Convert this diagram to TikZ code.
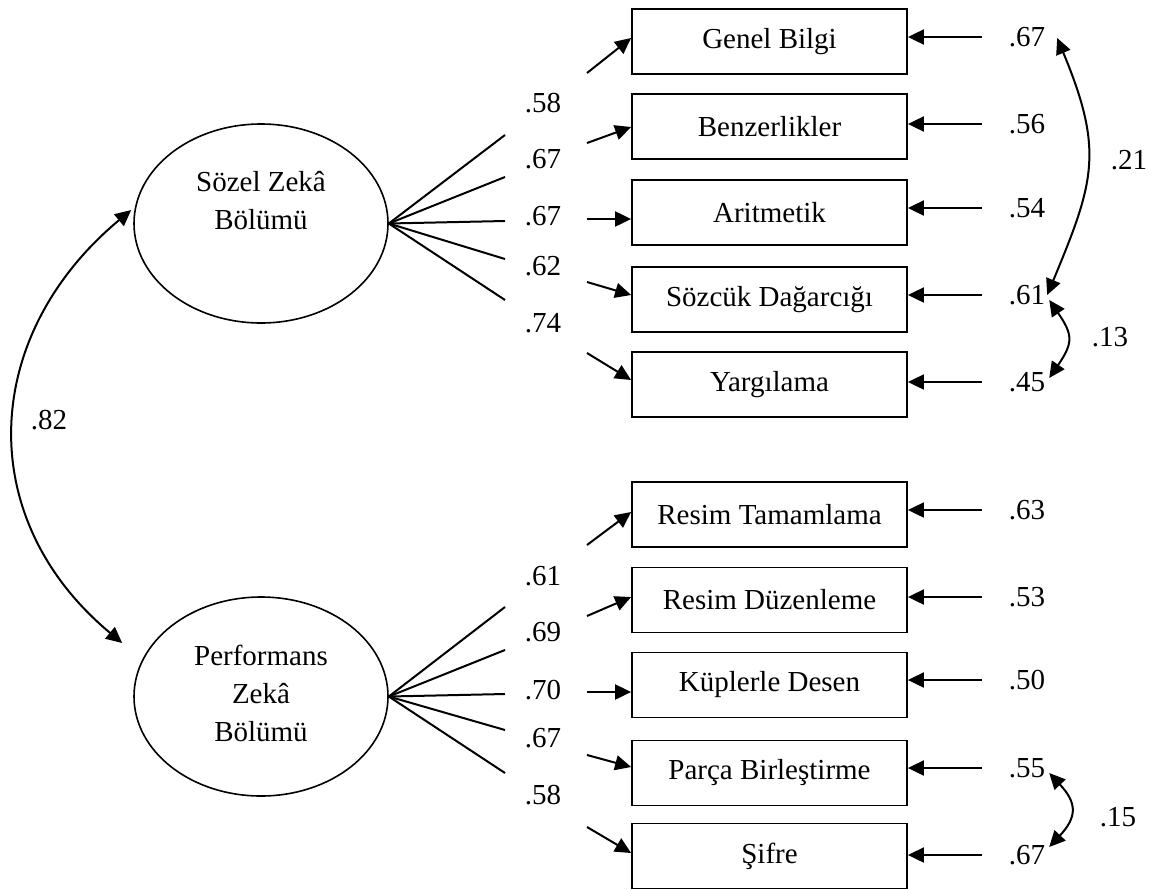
\documentclass[tikz,border=0pt]{standalone}
\usepackage{fontspec}
\setmainfont{Liberation Serif}
\usetikzlibrary{calc,arrows.meta,shapes.geometric}

\begin{document}
\begin{tikzpicture}[
        x=0.5pt, y=-0.5pt, % 按像素取坐标
        >={Triangle[length=8pt,width=7.5pt]},
        font=\fontsize{14.5}{19}\selectfont,
        gizil/.style={draw, ellipse, line width=0.8pt, minimum width=127pt, minimum height=99.5pt},
        kutu/.style={draw, line width=0.9pt, minimum width=137.5pt, minimum height=32.5pt, inner sep=0pt},
        yol/.style={line width=1pt},
        ok/.style={->, line width=1pt},
        cov/.style={<->, line width=1pt},
    ]
    \useasboundingbox (0,0) rectangle (1149,889);

    % 潜变量
    \node[gizil] (SZ) at (261,223.5) {};
    \node[align=center] (SZt) at (261,201) {Sözel Zekâ\\Bölümü};
    \node[gizil] (PZ) at (261,696.5) {};
    \node[align=center] (PZt) at (261,693) {Performans\\Zekâ\\Bölümü};

    % 观测变量
    \node[kutu] (GB) at (769.5,41.5) {Genel Bilgi};
    \node[kutu] (BZ) at (769.5,126.5) {Benzerlikler};
    \node[kutu] (AR) at (769.5,212.5) {Aritmetik};
    \node[kutu] (SD) at (769.5,299.5) {Sözcük Dağarcığı};
    \node[kutu] (YG) at (769.5,384.5) {Yargılama};
    \node[kutu] (RT) at (769.5,514.5) {Resim Tamamlama};
    \node[kutu] (RD) at (769.5,600) {Resim Düzenleme};
    \node[kutu] (KD) at (769.5,685) {Küplerle Desen};
    \node[kutu] (PB) at (769.5,773) {Parça Birleştirme};
    \node[kutu] (SF) at (769.5,856) {Şifre};

    % 载荷线（中间断开）
    \coordinate (F1) at (505,135);
    \coordinate (F2) at (505,177);
    \coordinate (F3) at (505,221);
    \coordinate (F4) at (505,259);
    \coordinate (F5) at (505,300);
    \coordinate (F6) at (505,607);
    \coordinate (F7) at (505,650);
    \coordinate (F8) at (505,694);
    \coordinate (F9) at (505,730);
    \coordinate (F10) at (505,773);
    \draw[yol] (SZ.east) -- (F1);
    \draw[yol] (SZ.east) -- (F2);
    \draw[yol] (SZ.east) -- (F3);
    \draw[yol] (SZ.east) -- (F4);
    \draw[yol] (SZ.east) -- (F5);
    \draw[yol] (PZ.east) -- (F6);
    \draw[yol] (PZ.east) -- (F7);
    \draw[yol] (PZ.east) -- (F8);
    \draw[yol] (PZ.east) -- (F9);
    \draw[yol] (PZ.east) -- (F10);

    \node (L1) at (543,103) {.58};
    \node (L2) at (543,159) {.67};
    \node (L3) at (543,216) {.67};
    \node (L4) at (543,266) {.62};
    \node (L5) at (543,323) {.74};
    \node (L6) at (543,576) {.61};
    \node (L7) at (543,632) {.69};
    \node (L8) at (543,690) {.70};
    \node (L9) at (543,738) {.67};
    \node (L10) at (543,795) {.58};

    \coordinate (A1) at (587,73);
    \coordinate (A2) at (587,143);
    \coordinate (A3) at (587,219);
    \coordinate (A4) at (587,282);
    \coordinate (A5) at (587,353);
    \coordinate (A6) at (587,545);
    \coordinate (A7) at (587,616);
    \coordinate (A8) at (587,692);
    \coordinate (A9) at (587,755);
    \coordinate (A10) at (587,827);
    \draw[ok] (A1) -- ($(GB.west)+(0,-3.5)$);
    \draw[ok] (A2) -- ($(BZ.west)+(0,0.5)$);
    \draw[ok] (A3) -- ($(AR.west)+(0,6.5)$);
    \draw[ok] (A4) -- ($(SD.west)+(0,-4.5)$);
    \draw[ok] (A5) -- ($(YG.west)+(0,-4.5)$);
    \draw[ok] (A6) -- ($(RT.west)+(0,-2.5)$);
    \draw[ok] (A7) -- ($(RD.west)+(0,-3)$);
    \draw[ok] (A8) -- ($(KD.west)+(0,7)$);
    \draw[ok] (A9) -- ($(PB.west)+(0,-6)$);
    \draw[ok] (A10) -- ($(SF.west)+(0,-3)$);

    % 误差
    \node (E1) at (1027,37) {.67};
    \node (E2) at (1027,124) {.56};
    \node (E3) at (1027,208) {.54};
    \node (E4) at (1027,295) {.61};
    \node (E5) at (1027,382) {.45};
    \node (E6) at (1027,510) {.63};
    \node (E7) at (1027,597) {.53};
    \node (E8) at (1027,680) {.50};
    \node (E9) at (1027,768) {.55};
    \node (E10) at (1027,855) {.67};
    \draw[ok] ([xshift=-10pt]E1.west) -- (GB.east |- E1.west);
    \draw[ok] ([xshift=-10pt]E2.west) -- (BZ.east |- E2.west);
    \draw[ok] ([xshift=-10pt]E3.west) -- (AR.east |- E3.west);
    \draw[ok] ([xshift=-10pt]E4.west) -- (SD.east |- E4.west);
    \draw[ok] ([xshift=-10pt]E5.west) -- (YG.east |- E5.west);
    \draw[ok] ([xshift=-10pt]E6.west) -- (RT.east |- E6.west);
    \draw[ok] ([xshift=-10pt]E7.west) -- (RD.east |- E7.west);
    \draw[ok] ([xshift=-10pt]E8.west) -- (KD.east |- E8.west);
    \draw[ok] ([xshift=-10pt]E9.west) -- (PB.east |- E9.west);
    \draw[ok] ([xshift=-10pt]E10.west) -- (SF.east |- E10.west);

    % 相关
    \draw[cov] ($(SZ.west)+(-2,-13.5)$) .. controls +(-150,125) and +(-150,-125) .. ($(PZ.west)+(-11,-53.5)$);
    \node (R82) at (49,420) {.82};
    \draw[cov] ($(E1.east)+(5,1)$) .. controls +(47,113) and +(47,-113) .. ($(E4.east)+(-5,0)$);
    \node (R21) at (1129,160) {.21};
    \draw[cov] ($(E4.east)+(-3,5)$) .. controls +(24,35) and +(24,-35) .. ($(E5.east)+(-3,-4)$);
    \node (R13) at (1110,337) {.13};
    \draw[cov] ($(E9.east)+(-3,5)$) .. controls +(28,30) and +(28,-30) .. ($(E10.east)+(-3,-8)$);
    \node (R15) at (1118,817) {.15};
\end{tikzpicture}
\end{document}
